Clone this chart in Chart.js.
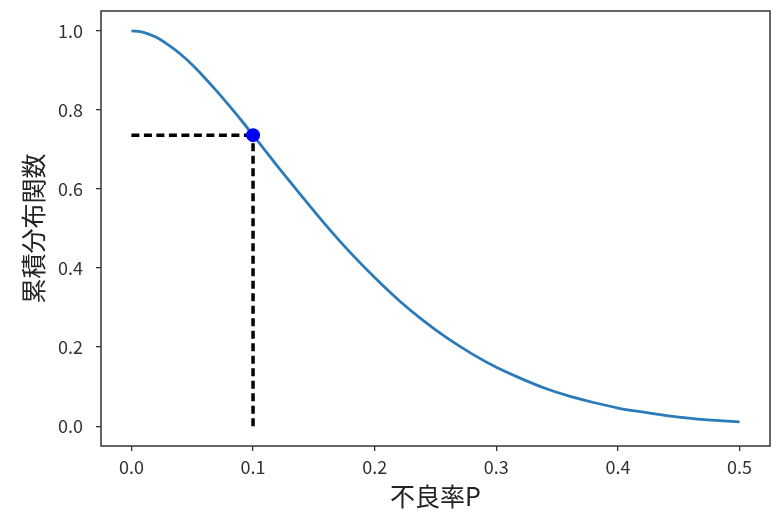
<!DOCTYPE html>
<html>
<head>
<meta charset="utf-8">
<script src="https://cdn.jsdelivr.net/npm/chart.js@4"></script>
<style>
    html, body { margin: 0; padding: 0; background: #fff; }
    #wrap { width: 778px; height: 516px; }
</style>
</head>
<body>
<div id="wrap"><canvas id="ocChart" width="778" height="516"></canvas></div>
<script>
// Values
const defectRate = [0, 0.01, 0.02, 0.03, 0.04, 0.05, 0.06, 0.07, 0.08, 0.09, 0.10,
    0.12, 0.14, 0.16, 0.18, 0.20,
    0.22, 0.24, 0.26, 0.28, 0.30, 0.32, 0.34, 0.36, 0.38, 0.40,
    0.42, 0.44, 0.46, 0.48, 0.50];
const cdfValues = [1.000, 0.996, 0.984, 0.965, 0.942, 0.914, 0.882, 0.848, 0.812, 0.775, 0.736,
    0.658, 0.582, 0.508, 0.439, 0.376,
    0.318, 0.267, 0.222, 0.183, 0.149, 0.121, 0.096, 0.076, 0.060, 0.046,
    0.036, 0.027, 0.020, 0.015, 0.011];
const markP = 0.1;
const markValue = 0.736;
const xTicks = [0, 0.1, 0.2, 0.3, 0.4, 0.5];
const yTicks = [0, 0.2, 0.4, 0.6, 0.8, 1.0];

const FONT = '"Noto Sans CJK JP", "Noto Sans", sans-serif';
const INK = '#333333';

// draw the box round the plot area, like a matplotlib frame
const framePlugin = {
    id: 'frame',
    afterDraw(chart) {
        const a = chart.chartArea;
        const ctx = chart.ctx;
        ctx.save();
        ctx.strokeStyle = INK;
        ctx.lineWidth = 1.5;
        ctx.strokeRect(a.left, a.top, a.right - a.left, a.bottom - a.top);
        ctx.restore();
    }
};

// fixed axis sizes, no extra room for edge labels
function fixSize(scale, prop, size) {
    scale[prop] = size;
    scale.paddingTop = 0;
    scale.paddingBottom = 0;
    scale.paddingLeft = 0;
    scale.paddingRight = 0;
}

const curveData = defectRate.map((p, i) => ({ x: p, y: cdfValues[i] }));

new Chart(document.getElementById('ocChart'), {
    type: 'line',
    data: {
        datasets: [
            {
                type: 'scatter',
                data: [{ x: markP, y: markValue }],
                pointRadius: 7,
                pointBackgroundColor: '#0000ff',
                pointBorderColor: '#0000ff',
                pointBorderWidth: 0,
                order: 0
            },
            {
                data: [{ x: 0, y: markValue }, { x: markP, y: markValue }],
                borderColor: '#000000',
                borderWidth: 3.5,
                borderDash: [8, 4.5],
                pointRadius: 0,
                order: 1
            },
            {
                data: [{ x: markP, y: 0 }, { x: markP, y: markValue }],
                borderColor: '#000000',
                borderWidth: 3.5,
                borderDash: [8, 4.5],
                pointRadius: 0,
                order: 1
            },
            {
                data: curveData,
                borderColor: '#2b7bba',
                borderWidth: 2.8,
                pointRadius: 0,
                cubicInterpolationMode: 'monotone',
                order: 2
            }
        ]
    },
    options: {
        responsive: false,
        animation: false,
        devicePixelRatio: 1,
        layout: { padding: { left: 0, top: 11, right: 8, bottom: 0 } },
        plugins: {
            legend: { display: false },
            tooltip: { enabled: false }
        },
        scales: {
            x: {
                type: 'linear',
                min: -0.025,
                max: 0.525,
                afterFit: (scale) => fixSize(scale, 'height', 70),
                afterBuildTicks: (scale) => { scale.ticks = xTicks.map(v => ({ value: v })); },
                border: { display: false },
                grid: { drawOnChartArea: false, drawTicks: true, tickLength: 5, color: INK, lineWidth: 1.3 },
                ticks: {
                    color: INK,
                    padding: 5,
                    maxRotation: 0,
                    font: { family: FONT, size: 18 },
                    callback: (v) => Number(v).toFixed(1)
                },
                title: {
                    display: true,
                    text: '不良率P',
                    color: '#222',
                    font: { family: FONT, size: 25, lineHeight: 1 },
                    padding: { top: 0, bottom: 7.5 }
                }
            },
            y: {
                type: 'linear',
                min: -0.05,
                max: 1.05,
                afterFit: (scale) => fixSize(scale, 'width', 101),
                afterBuildTicks: (scale) => { scale.ticks = yTicks.map(v => ({ value: v })); },
                border: { display: false },
                grid: { drawOnChartArea: false, drawTicks: true, tickLength: 5, color: INK, lineWidth: 1.3 },
                ticks: {
                    color: INK,
                    padding: 13,
                    font: { family: FONT, size: 18 },
                    callback: (v) => Number(v).toFixed(1)
                },
                title: {
                    display: true,
                    text: '累積分布関数',
                    color: '#222',
                    font: { family: FONT, size: 25, lineHeight: 1 },
                    padding: { top: 21, bottom: 0 }
                }
            }
        }
    },
    plugins: [framePlugin]
});
</script>
</body>
</html>
